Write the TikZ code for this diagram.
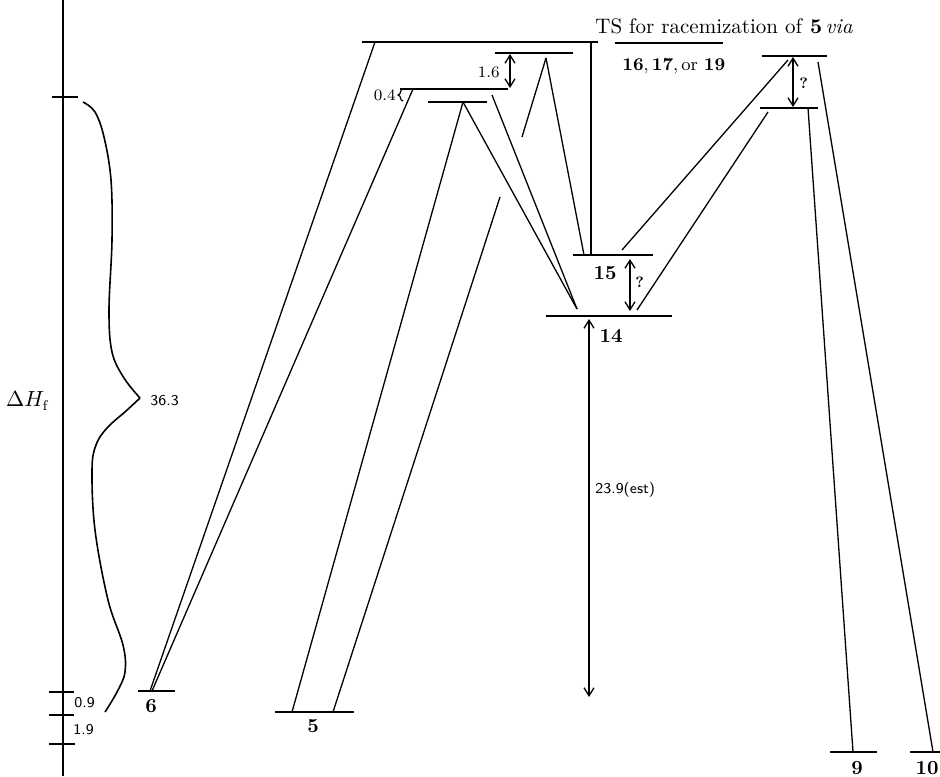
\documentclass[tikz,border=0pt]{standalone}
\usetikzlibrary{arrows.meta,decorations.pathreplacing}
\begin{document}
\begin{tikzpicture}[
    x=0.5pt, y=-0.5pt,
    levelline/.style={line width=1pt},
    rxnline/.style={line width=0.65pt},
    gaparrow/.style={{Straight Barb[length=4pt,width=5pt]}-{Straight Barb[length=4pt,width=5pt]}, line width=0.65pt},
    cmpd/.style={font=\bfseries\fontsize{10}{12}\selectfont, inner sep=0pt},
    valnum/.style={font=\sffamily\fontsize{7.5}{9}\selectfont, inner sep=0pt},
    smallnum/.style={font=\fontsize{8}{9}\selectfont, inner sep=0pt}
]
    \useasboundingbox (0,0) rectangle (940,776);

    % --- ENERGY AXIS ---
    \coordinate (axtop) at (63,0);
    \coordinate (axbot) at (63,776);
    \draw[levelline] (axtop) -- (axbot);
    \foreach \yy/\xa/\xb in {97/52/78, 692/49/74, 715/49/74, 744/49/75}
        \draw[levelline] (\xa,\yy) -- (\xb,\yy);
    \node[anchor=west, valnum] (v09) at (74,703) {0.9};
    \node[anchor=west, valnum] (v19) at (73,730) {1.9};
    \node[font=\fontsize{10.5}{12}\selectfont, inner sep=0pt] (dH) at (28,401) {$\Delta H_{\mathrm{f}}$};

    % hand drawn brace
    \draw[line width=0.8pt] plot[smooth, tension=0.6] coordinates {(83,102) (95,112) (104,137) (111,180) (112,240) (109,310) (112,352) (124,378) (140,398)};
    \draw[line width=0.8pt] plot[smooth, tension=0.6] coordinates {(140,398) (126,411) (107,428) (96,445) (92,470) (95,530) (108,600) (123,645) (125,672) (117,692) (105,712)};
    \node[anchor=west, valnum] (v363) at (150,401) {36.3};

    % --- LEVELS ---
    \foreach \nm/\xa/\xb/\yy in {ts/362/598/42, bar/615/723/43, a/400/508/89, b/428/487/102,
        c/495/573/53, ru/762/827/56, rl/760/818/108, l15/573/653/255, l14/546/672/316,
        l6/138/175/691, l5/275/354/712, l9/830/877/752, l10/910/960/752} {
        \coordinate (\nm-l) at (\xa,\yy);
        \coordinate (\nm-r) at (\xb,\yy);
        \draw[levelline] (\nm-l) -- (\nm-r);
    }

    % --- CONNECTIONS ---
    \coordinate (ts1) at (375,42);
    \coordinate (ts2) at (591,42);
    \coordinate (a1) at (413,89);
    \coordinate (a2) at (492,95);
    \coordinate (bpk) at (463,102);
    \coordinate (cpk) at (546,58);
    \coordinate (cbrk) at (522,137);
    \coordinate (s5brk) at (500,197);
    \coordinate (ru1) at (788,60);
    \coordinate (ru2) at (818,62);
    \coordinate (rl1) at (768,112);
    \coordinate (rl2) at (808,108);
    \coordinate (q15a) at (584,255);
    \coordinate (q15b) at (591,255);
    \coordinate (q15c) at (622,250);
    \coordinate (q14a) at (577,309);
    \coordinate (q14b) at (637,310);
    \coordinate (q6a) at (150,691);
    \coordinate (q6b) at (152,691);
    \coordinate (q5a) at (292,712);
    \coordinate (q5b) at (333,712);
    \coordinate (q9) at (853,752);
    \coordinate (q10) at (933,752);

    \draw[rxnline] (ts1) -- (q6a);
    \draw[rxnline] (a1) -- (q6b);
    \draw[rxnline] (ts2) -- (q15b);
    \draw[rxnline] (bpk) -- (q5a);
    \draw[rxnline] (bpk) -- (q14a);
    \draw[rxnline] (a2) -- (q14a);
    \draw[rxnline] (cpk) -- (q15a);
    \draw[rxnline] (cpk) -- (cbrk);
    \draw[rxnline] (s5brk) -- (q5b);
    \draw[rxnline] (q15c) -- (ru1);
    \draw[rxnline] (q14b) -- (rl1);
    \draw[rxnline] (rl2) -- (q9);
    \draw[rxnline] (ru2) -- (q10);

    % --- GAPS ---
    \coordinate (g16t) at (510,54);
    \coordinate (g16b) at (510,88);
    \draw[gaparrow] (g16t) -- (g16b);
    \node[anchor=east, smallnum] (v16) at (500,72) {1.6};

    \draw[line width=0.6pt, decorate, decoration={brace, amplitude=2.5pt}] (403,101) -- (403,89);
    \node[anchor=east, smallnum] (v04) at (396,95) {0.4};

    \coordinate (gqt) at (793,57);
    \coordinate (gqb) at (793,107);
    \draw[gaparrow] (gqt) -- (gqb);
    \node[anchor=west, smallnum, font=\bfseries\fontsize{7.5}{9}\selectfont] (vq1) at (799,83) {?};

    \coordinate (gmt) at (630,259);
    \coordinate (gmb) at (630,311);
    \draw[gaparrow] (gmt) -- (gmb);
    \node[anchor=west, smallnum, font=\bfseries\fontsize{7.5}{9}\selectfont] (vq2) at (635,282) {?};

    \coordinate (g14t) at (589,319);
    \coordinate (g14b) at (589,697);
    \draw[gaparrow] (g14t) -- (g14b);
    \node[anchor=west, valnum] (v239) at (595,490) {23.9(est)};

    % --- LABELS ---
    \node[cmpd] (n15) at (605,273) {15};
    \node[cmpd] (n14) at (611,336) {14};
    \node[cmpd] (n6) at (151,706) {6};
    \node[cmpd] (n5) at (313,726) {5};
    \node[cmpd] (n9) at (857,768) {9};
    \node[cmpd, anchor=east] (n10) at (939,768) {10};
    \node[anchor=base west, inner sep=0pt, font=\fontsize{10.5}{12}\selectfont] (tstext) at (595,33)
        {TS for racemization of \textbf{5}\,\textit{via}};
    \node[anchor=base west, inner sep=0pt, font=\fontsize{9}{11}\selectfont] (tsvia) at (622,70)
        {\textbf{16},\,\textbf{17},\,or \textbf{19}};
\end{tikzpicture}
\end{document}
